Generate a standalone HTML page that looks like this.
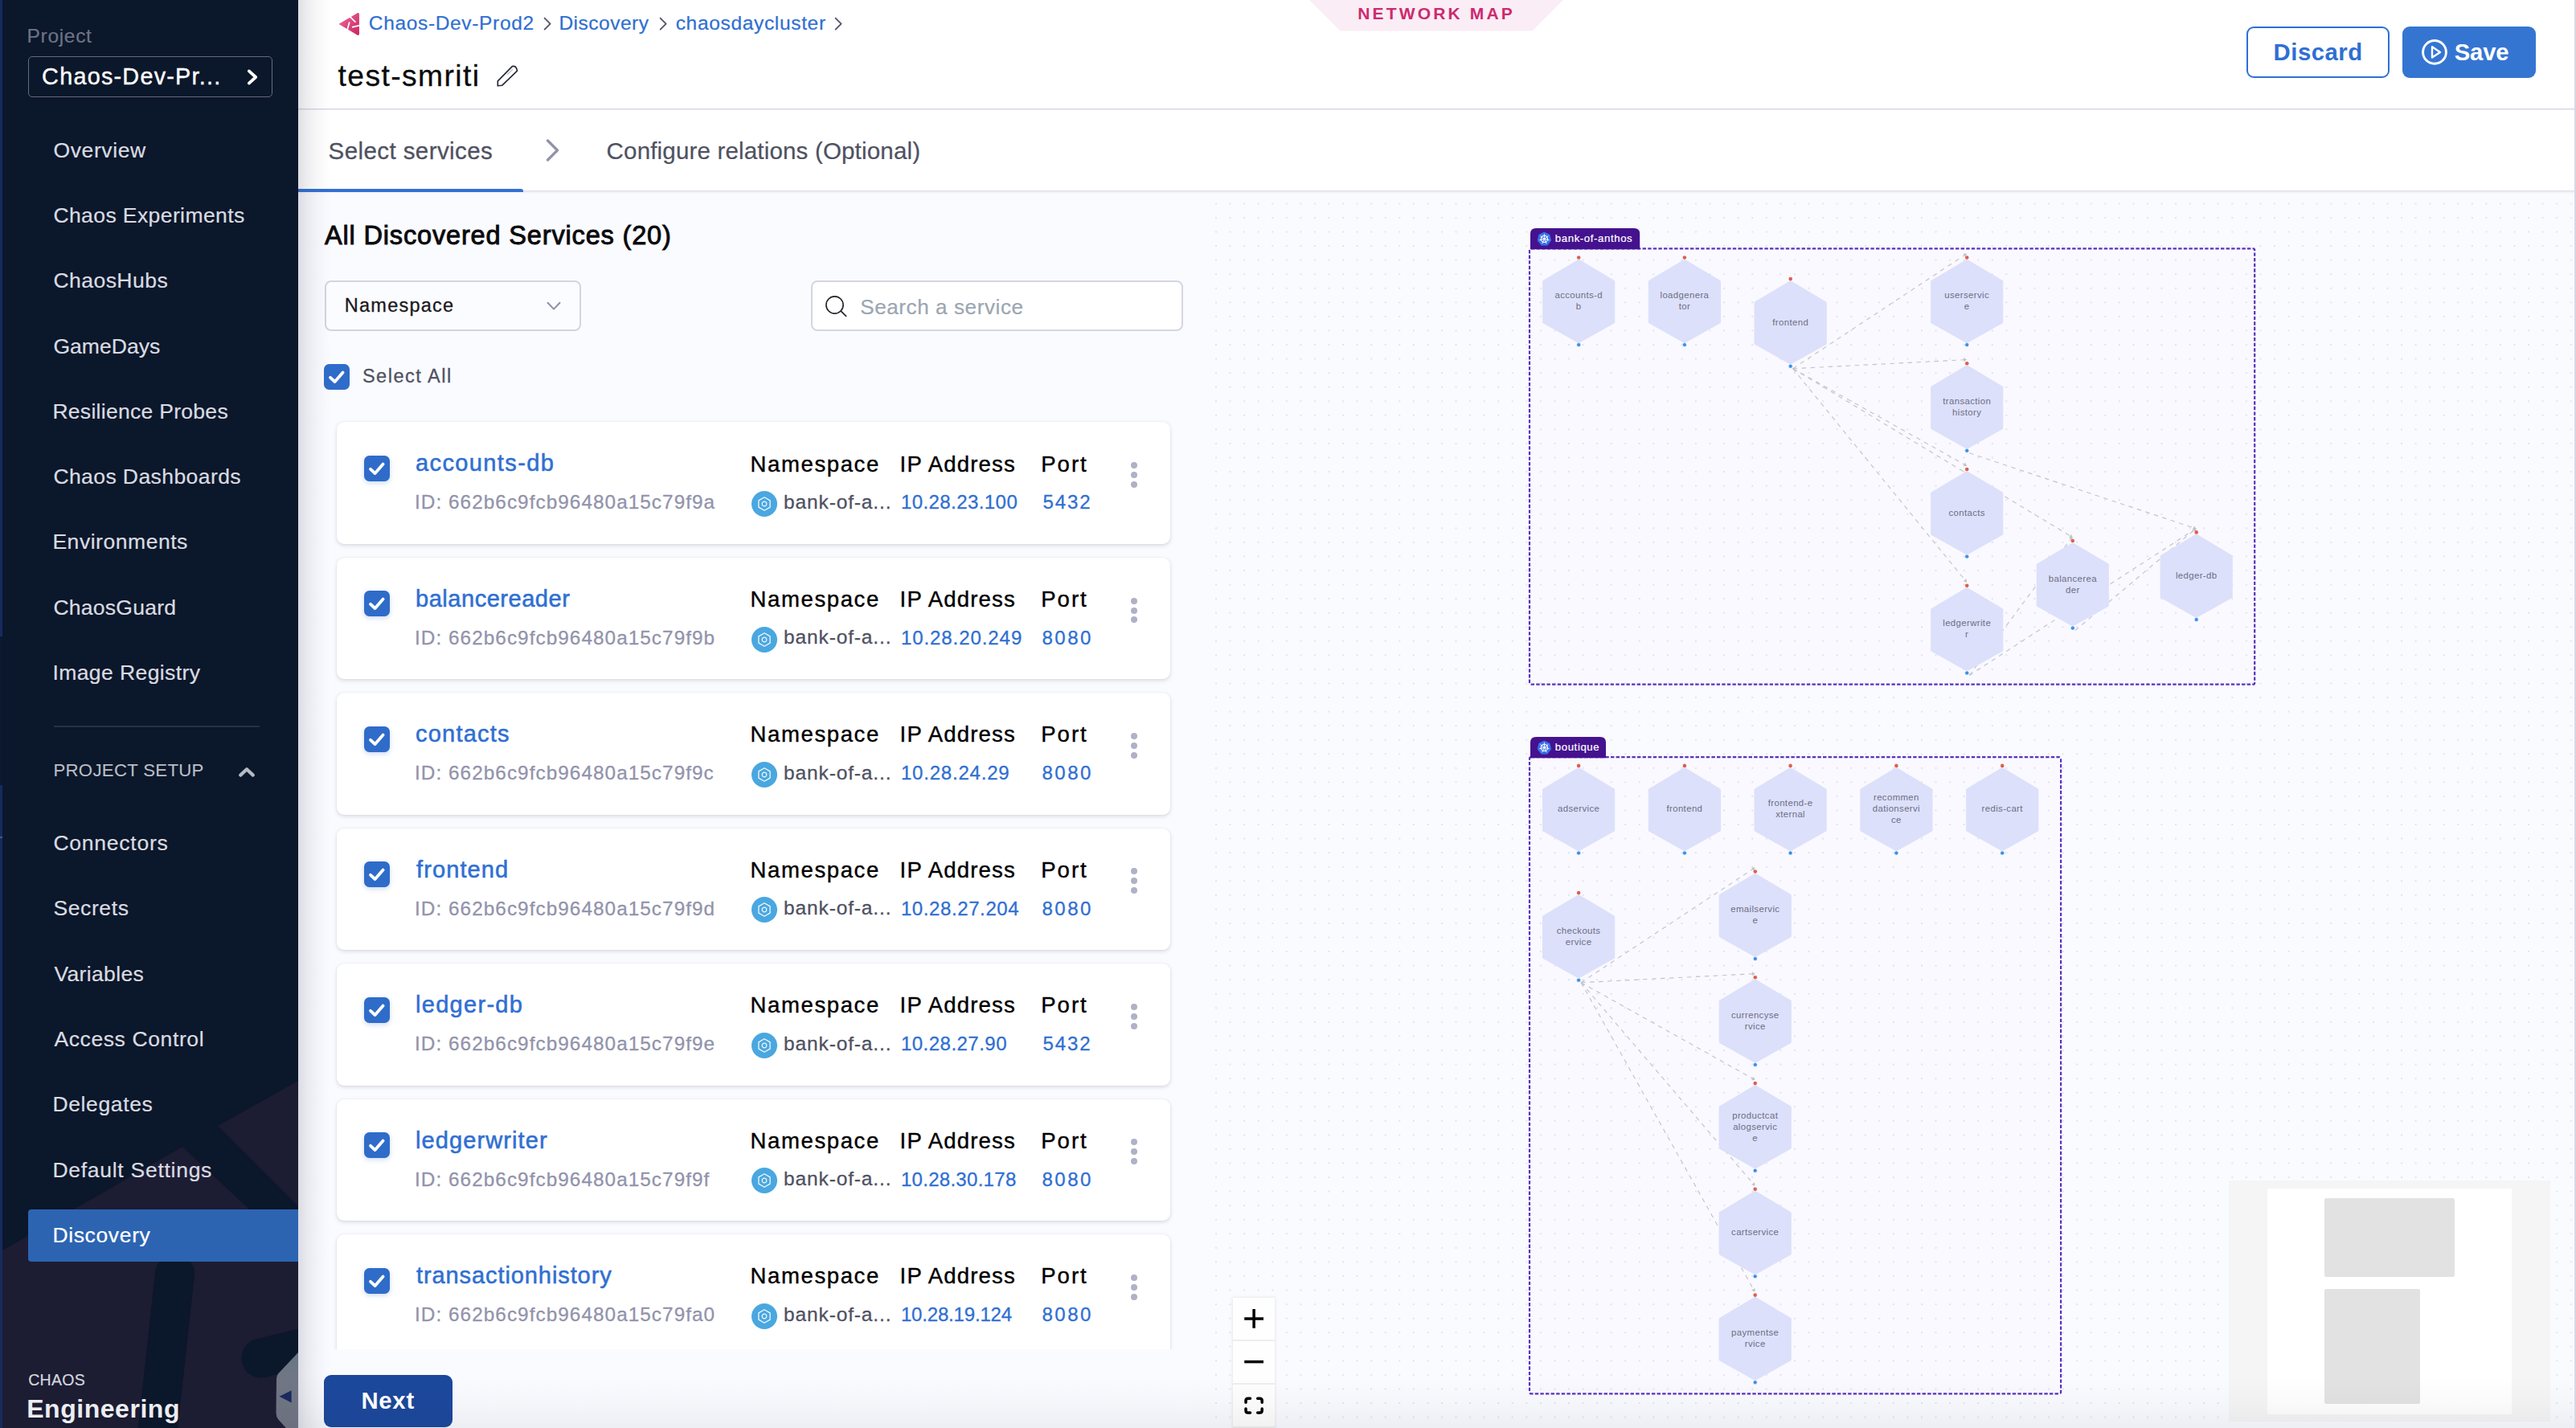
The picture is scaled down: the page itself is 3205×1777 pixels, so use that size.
<!DOCTYPE html>
<html><head><meta charset="utf-8"><title>Network Map</title><style>
html,body{margin:0;padding:0}
body{width:3205px;height:1777px;position:relative;overflow:hidden;background:#fff;font-family:"Liberation Sans",sans-serif}
.t{position:absolute;white-space:nowrap;line-height:1;font-family:"Liberation Sans",sans-serif}
svg{display:block;overflow:visible}
</style></head><body>
<div id="sb" style="position:absolute;left:0;top:0;width:371px;height:1777px;background:#0b172a;overflow:hidden">
<svg style="position:absolute;left:0;top:0" width="371" height="1777" viewBox="0 0 371 1777">
<g fill="#1c1c33">
<polygon points="371,1345 271,1401 371,1501"/>
<polygon points="3,1556 227,1427 371,1562 371,1777 3,1777"/>
</g>
<g stroke="#0b172a" stroke-width="49" stroke-linecap="round">
<line x1="217.5" y1="1585" x2="194" y2="1800"/>
<line x1="325" y1="1690" x2="400" y2="1672"/>
</g>
</svg>
<div style="position:absolute;left:0;top:0;width:3px;height:792px;background:#172b5e"></div>
<div style="position:absolute;left:0;top:792px;width:3px;height:185px;background:#0a1a31"></div>
<div style="position:absolute;left:0;top:977px;width:3px;height:800px;background:#172b5e"></div>
<div style="position:absolute;left:0;top:1041px;width:3px;height:2px;background:#4a5a86"></div>
<span class="t" style="left:33.60px;top:33.46px;font-size:24.5px;color:#6d7386;letter-spacing:0.676px;-webkit-text-stroke:0.22px #6d7386;">Project</span>
<div style="position:absolute;left:35px;top:70px;width:304px;height:51px;box-sizing:border-box;border:1.3px solid #656a80;border-radius:5px"></div>
<span class="t" style="left:52.10px;top:81.32px;font-size:28.8px;color:#ffffff;letter-spacing:1.240px;-webkit-text-stroke:0.4px #ffffff;">Chaos-Dev-Pr...</span>
<svg style="position:absolute;left:300px;top:80px" width="30" height="32"><polyline points="9.8,8.4 18.2,16 9.8,23.6" fill="none" stroke="#fff" stroke-width="3.8" stroke-linecap="round" stroke-linejoin="round"/></svg>
<span class="t" style="left:66.40px;top:173.57px;font-size:26.5px;color:#d9dbe1;letter-spacing:0.628px;-webkit-text-stroke:0.22px #d9dbe1;">Overview</span>
<span class="t" style="left:66.40px;top:254.87px;font-size:26.5px;color:#d9dbe1;letter-spacing:0.413px;-webkit-text-stroke:0.22px #d9dbe1;">Chaos Experiments</span>
<span class="t" style="left:66.40px;top:336.17px;font-size:26.5px;color:#d9dbe1;letter-spacing:0.473px;-webkit-text-stroke:0.22px #d9dbe1;">ChaosHubs</span>
<span class="t" style="left:66.40px;top:417.57px;font-size:26.5px;color:#d9dbe1;letter-spacing:0.059px;-webkit-text-stroke:0.22px #d9dbe1;">GameDays</span>
<span class="t" style="left:65.40px;top:498.97px;font-size:26.5px;color:#d9dbe1;letter-spacing:0.292px;-webkit-text-stroke:0.22px #d9dbe1;">Resilience Probes</span>
<span class="t" style="left:66.40px;top:580.17px;font-size:26.5px;color:#d9dbe1;letter-spacing:0.420px;-webkit-text-stroke:0.22px #d9dbe1;">Chaos Dashboards</span>
<span class="t" style="left:65.40px;top:661.17px;font-size:26.5px;color:#d9dbe1;letter-spacing:0.540px;-webkit-text-stroke:0.22px #d9dbe1;">Environments</span>
<span class="t" style="left:66.40px;top:742.87px;font-size:26.5px;color:#d9dbe1;letter-spacing:0.265px;-webkit-text-stroke:0.22px #d9dbe1;">ChaosGuard</span>
<span class="t" style="left:65.40px;top:824.17px;font-size:26.5px;color:#d9dbe1;letter-spacing:0.419px;-webkit-text-stroke:0.22px #d9dbe1;">Image Registry</span>
<span class="t" style="left:66.40px;top:1036.17px;font-size:26.5px;color:#d9dbe1;letter-spacing:0.759px;-webkit-text-stroke:0.22px #d9dbe1;">Connectors</span>
<span class="t" style="left:66.40px;top:1117.17px;font-size:26.5px;color:#d9dbe1;letter-spacing:0.619px;-webkit-text-stroke:0.22px #d9dbe1;">Secrets</span>
<span class="t" style="left:67.40px;top:1198.57px;font-size:26.5px;color:#d9dbe1;letter-spacing:0.367px;-webkit-text-stroke:0.22px #d9dbe1;">Variables</span>
<span class="t" style="left:67.40px;top:1280.07px;font-size:26.5px;color:#d9dbe1;letter-spacing:0.614px;-webkit-text-stroke:0.22px #d9dbe1;">Access Control</span>
<span class="t" style="left:65.40px;top:1361.17px;font-size:26.5px;color:#d9dbe1;letter-spacing:0.640px;-webkit-text-stroke:0.22px #d9dbe1;">Delegates</span>
<span class="t" style="left:65.40px;top:1442.57px;font-size:26.5px;color:#d9dbe1;letter-spacing:0.725px;-webkit-text-stroke:0.22px #d9dbe1;">Default Settings</span>
<div style="position:absolute;left:67px;top:903px;width:256px;height:2px;background:#243147"></div>
<span class="t" style="left:66.40px;top:948.31px;font-size:22.2px;color:#b9bdc6;letter-spacing:0.309px;-webkit-text-stroke:0.1px #b9bdc6;">PROJECT SETUP</span>
<svg style="position:absolute;left:290px;top:948px" width="34" height="26"><polyline points="9.2,16.6 17,9.3 24.8,16.6" fill="none" stroke="#b6bac4" stroke-width="4.2" stroke-linecap="round" stroke-linejoin="round"/></svg>
<div style="position:absolute;left:35px;top:1504.7px;width:336px;height:65.8px;background:#2c64b2;border-radius:4px 0 0 4px"></div>
<span class="t" style="left:65.40px;top:1523.97px;font-size:26.5px;color:#ffffff;letter-spacing:0.641px;-webkit-text-stroke:0.22px #ffffff;">Discovery</span>
<span class="t" style="left:35.20px;top:1708.29px;font-size:19.5px;color:#d3d6dc;letter-spacing:0.290px;-webkit-text-stroke:0.22px #d3d6dc;">CHAOS</span>
<span class="t" style="left:33.20px;top:1736.51px;font-size:32px;color:#ecedf0;font-weight:700;letter-spacing:0.534px;">Engineering</span>
<svg style="position:absolute;left:340px;top:1675px" width="31" height="102" viewBox="340 1675 31 102">
<defs><linearGradient id="hg" x1="0" y1="0" x2="0" y2="1"><stop offset="0" stop-color="#667684"/><stop offset=".3" stop-color="#717684"/><stop offset="1" stop-color="#6b6f7d"/></linearGradient></defs>
<path d="M371 1683 L346 1709.5 Q344 1712 344 1716 L343.5 1758 Q343.6 1763 346 1766 L371 1794 Z" fill="url(#hg)"/>
<path d="M347.5 1737.8 L362.6 1730.2 L362.6 1745.6 Z" fill="#1a2a60"/>
</svg>
</div>
<div style="position:absolute;left:371px;top:0;width:2834px;height:1777px;background:#fafbff"></div>
<div style="position:absolute;left:371px;top:0;width:2834px;height:135px;background:#fff"></div>
<div style="position:absolute;left:371px;top:134.7px;width:2834px;height:1.8px;background:#dadbe8"></div>
<div style="position:absolute;left:371px;top:136.6px;width:2834px;height:100.4px;background:#fff;box-shadow:0 1px 4px rgba(40,41,61,.16), 0 0 1px rgba(40,41,61,.2)"></div>
<div style="position:absolute;left:371px;top:234.6px;width:280px;height:4px;background:#3270d2;border-radius:0 3px 0 0"></div>
<svg style="position:absolute;left:418px;top:12px" width="34" height="36" viewBox="418 12 34 36">
<defs><linearGradient id="cg" x1="0" y1="0" x2="1" y2="1"><stop offset="0" stop-color="#ee6a9c"/><stop offset="1" stop-color="#c92660"/></linearGradient></defs>
<path d="M422.3 29.9 L445.0 16.6 Q446.4 15.8 446.4 17.6 L446.4 42.4 Q446.4 44.2 444.9 43.3 Z" fill="url(#cg)" stroke="url(#cg)" stroke-width="1" stroke-linejoin="round"/>
<g stroke="#fff" stroke-width="1.7" fill="none">
<path d="M434.2 19.6 L442.4 27.6"/><path d="M434.8 27.4 L432 37.5"/><path d="M438 33.8 L447.5 31.7"/>
</g></svg>
<span class="t" style="left:458.80px;top:16.96px;font-size:24.5px;color:#2f6fd2;letter-spacing:0.660px;-webkit-text-stroke:0.22px #2f6fd2;">Chaos-Dev-Prod2</span>
<span class="t" style="left:695.40px;top:16.96px;font-size:24.5px;color:#2f6fd2;letter-spacing:0.513px;-webkit-text-stroke:0.22px #2f6fd2;">Discovery</span>
<span class="t" style="left:840.70px;top:16.96px;font-size:24.5px;color:#2f6fd2;letter-spacing:0.666px;-webkit-text-stroke:0.22px #2f6fd2;">chaosdaycluster</span>
<svg style="position:absolute;left:673.8px;top:17px" width="16" height="26"><polyline points="3.6,5.6 10.6,12.6 3.6,19.6" fill="none" stroke="#55586b" stroke-width="1.9" stroke-linecap="round" stroke-linejoin="round"/></svg>
<svg style="position:absolute;left:817.7px;top:17px" width="16" height="26"><polyline points="3.6,5.6 10.6,12.6 3.6,19.6" fill="none" stroke="#55586b" stroke-width="1.9" stroke-linecap="round" stroke-linejoin="round"/></svg>
<svg style="position:absolute;left:1036px;top:17px" width="16" height="26"><polyline points="3.6,5.6 10.6,12.6 3.6,19.6" fill="none" stroke="#55586b" stroke-width="1.9" stroke-linecap="round" stroke-linejoin="round"/></svg>
<span class="t" style="left:420.50px;top:75.81px;font-size:37.2px;color:#0b0b0d;letter-spacing:1.443px;-webkit-text-stroke:0.3px #0b0b0d;">test-smriti</span>
<svg style="position:absolute;left:614px;top:78px" width="34" height="34" viewBox="614 78 34 34">
<g fill="none" stroke="#262836" stroke-width="1.65" stroke-linejoin="round" stroke-linecap="round">
<path d="M637.3 82.6 Q641.2 81.5 642.7 85.3 L643.5 88.1 L624.6 106.3 L619.3 106.8 L619.3 100.9 Z"/>
<path d="M637.5 86.6 L631.6 92.3" stroke="#b4b7c2" stroke-width="1.2"/>
</g></svg>
<svg style="position:absolute;left:1620px;top:0" width="340" height="42" viewBox="1620 0 340 42"><path d="M1629 0 L1945 0 L1906.5 38.5 L1667.5 38.5 Z" fill="#fbedf5"/></svg>
<span class="t" style="left:1689.30px;top:6.22px;font-size:21px;color:#cc2a6e;font-weight:700;letter-spacing:3.152px;">NETWORK MAP</span>
<div style="position:absolute;left:2795px;top:33px;width:178px;height:63.6px;box-sizing:border-box;border:2px solid #2f6fd2;border-radius:9px;background:#fff"></div>
<span class="t" style="left:2828.60px;top:49.80px;font-size:29.3px;color:#2f6fd2;font-weight:700;letter-spacing:0.504px;">Discard</span>
<div style="position:absolute;left:2989px;top:33px;width:166px;height:63.6px;border-radius:9px;background:#3575d2"></div>
<svg style="position:absolute;left:3011px;top:47px" width="36" height="36" viewBox="3011 47 36 36">
<circle cx="3029" cy="64.9" r="14.4" fill="none" stroke="#fff" stroke-width="2.9"/>
<path d="M3026 58.2 L3036 64.9 L3026 71.6 Z" fill="none" stroke="#fff" stroke-width="2.4" stroke-linejoin="round"/></svg>
<span class="t" style="left:3053.70px;top:49.80px;font-size:29.3px;color:#ffffff;font-weight:700;letter-spacing:-0.176px;">Save</span>
<span class="t" style="left:408.60px;top:172.83px;font-size:29.5px;color:#4f5162;letter-spacing:0.412px;-webkit-text-stroke:0.3px #4f5162;">Select services</span>
<span class="t" style="left:754.60px;top:172.83px;font-size:29.5px;color:#4f5162;letter-spacing:0.176px;-webkit-text-stroke:0.22px #4f5162;">Configure relations (Optional)</span>
<svg style="position:absolute;left:672px;top:168px" width="32" height="38"><polyline points="9.5,7 21.5,19 9.5,31" fill="none" stroke="#9293ab" stroke-width="3.4" stroke-linecap="round" stroke-linejoin="round"/></svg>
<span class="t" style="left:404.00px;top:276.79px;font-size:32.5px;color:#0b0b0d;letter-spacing:0.838px;-webkit-text-stroke:0.95px #0b0b0d;">All Discovered Services (20)</span>
<div style="position:absolute;left:403.5px;top:349.3px;width:319px;height:63.2px;box-sizing:border-box;border:2px solid #d3d4e1;border-radius:8px;background:#fbfcff"></div>
<span class="t" style="left:428.80px;top:368.81px;font-size:23.5px;color:#1a1a20;letter-spacing:1.247px;-webkit-text-stroke:0.3px #1a1a20;">Namespace</span>
<svg style="position:absolute;left:674px;top:368px" width="30" height="26"><polyline points="7.5,8.8 15,16.6 22.5,8.8" fill="none" stroke="#8e8fa8" stroke-width="2" stroke-linecap="round" stroke-linejoin="round"/></svg>
<div style="position:absolute;left:1008.7px;top:349.2px;width:463px;height:63.3px;box-sizing:border-box;border:2px solid #d4d6e2;border-radius:8px;background:#fff"></div>
<svg style="position:absolute;left:1022px;top:363px" width="36" height="36" viewBox="1022 363 36 36"><circle cx="1038.5" cy="379.5" r="10.6" fill="none" stroke="#24242c" stroke-width="1.65"/><path d="M1046.3 387.2 L1052.6 393.4" stroke="#24242c" stroke-width="1.65" stroke-linecap="round"/></svg>
<span class="t" style="left:1070.30px;top:368.79px;font-size:26px;color:#9ba6b2;letter-spacing:0.601px;-webkit-text-stroke:0.22px #9ba6b2;">Search a service</span>
<svg style="position:absolute;left:403.2px;top:453px" width="32" height="32" viewBox="0 0 32 32"><rect x="0" y="0" width="32" height="32" rx="6.5" fill="#2f6cc9"/><path d="M8 16.8 L13.6 22 L23.6 10.6" fill="none" stroke="#fff" stroke-width="3.8" stroke-linecap="round" stroke-linejoin="round"/></svg>
<span class="t" style="left:450.90px;top:456.51px;font-size:23.5px;color:#4f5162;letter-spacing:1.507px;-webkit-text-stroke:0.3px #4f5162;">Select All</span>
<div style="position:absolute;left:371px;top:500px;width:1133px;height:1178.9px;overflow:hidden">
<div style="position:absolute;left:48px;top:25.1px;width:1037.2px;height:151.6px;background:#fff;border-radius:9px;box-shadow:0 2px 5px rgba(96,97,112,.2),0 0 1.5px rgba(40,41,61,.10)"></div>
<svg filter="drop-shadow(0 2px 3px rgba(47,108,201,.25))" style="position:absolute;left:82px;top:66.8px" width="32" height="32" viewBox="0 0 32 32"><rect x="0" y="0" width="32" height="32" rx="6.5" fill="#2f6cc9"/><path d="M8 16.8 L13.6 22 L23.6 10.6" fill="none" stroke="#fff" stroke-width="3.8" stroke-linecap="round" stroke-linejoin="round"/></svg>
<span class="t" style="left:146.00px;top:62.45px;font-size:29px;color:#2f6fd2;letter-spacing:1.384px;-webkit-text-stroke:0.55px #2f6fd2;">accounts-db</span>
<span class="t" style="left:145.00px;top:113.33px;font-size:24.3px;color:#9293ab;letter-spacing:1.060px;-webkit-text-stroke:0.3px #9293ab;">ID: 662b6c9fcb96480a15c79f9a</span>
<span class="t" style="left:562.60px;top:63.52px;font-size:27.5px;color:#000;letter-spacing:1.619px;-webkit-text-stroke:0.4px #000;">Namespace</span>
<span class="t" style="left:748.60px;top:63.52px;font-size:27.5px;color:#000;letter-spacing:1.183px;-webkit-text-stroke:0.4px #000;">IP Address</span>
<span class="t" style="left:924.20px;top:63.52px;font-size:27.5px;color:#000;letter-spacing:2.035px;-webkit-text-stroke:0.4px #000;">Port</span>
<svg style="position:absolute;left:564px;top:111.0px" width="32" height="32" viewBox="-16 -16 32 32"><circle r="16" fill="#4aa7e0"/><path d="M0 -8.2 L7.1 -4.1 L7.1 4.1 L0 8.2 L-7.1 4.1 L-7.1 -4.1 Z" fill="none" stroke="#f0f8fd" stroke-width="1.3" stroke-linejoin="round"/><circle r="2.8" fill="none" stroke="#f0f8fd" stroke-width="1.2"/></svg>
<span class="t" style="left:604.10px;top:112.96px;font-size:24.5px;color:#4f5162;letter-spacing:0.862px;-webkit-text-stroke:0.3px #4f5162;">bank-of-a...</span>
<span class="t" style="left:749.90px;top:113.38px;font-size:24px;color:#2f6fd2;letter-spacing:0.429px;-webkit-text-stroke:0.3px #2f6fd2;">10.28.23.100</span>
<span class="t" style="left:926.50px;top:113.38px;font-size:24px;color:#2f6fd2;letter-spacing:1.919px;-webkit-text-stroke:0.3px #2f6fd2;">5432</span>
<div style="position:absolute;left:1035.9px;top:75.0px;width:8px;height:8px;border-radius:50%;background:#b0b1c5"></div>
<div style="position:absolute;left:1035.9px;top:87.0px;width:8px;height:8px;border-radius:50%;background:#b0b1c5"></div>
<div style="position:absolute;left:1035.9px;top:98.9px;width:8px;height:8px;border-radius:50%;background:#b0b1c5"></div>
<div style="position:absolute;left:48px;top:193.6px;width:1037.2px;height:151.6px;background:#fff;border-radius:9px;box-shadow:0 2px 5px rgba(96,97,112,.2),0 0 1.5px rgba(40,41,61,.10)"></div>
<svg filter="drop-shadow(0 2px 3px rgba(47,108,201,.25))" style="position:absolute;left:82px;top:235.3px" width="32" height="32" viewBox="0 0 32 32"><rect x="0" y="0" width="32" height="32" rx="6.5" fill="#2f6cc9"/><path d="M8 16.8 L13.6 22 L23.6 10.6" fill="none" stroke="#fff" stroke-width="3.8" stroke-linecap="round" stroke-linejoin="round"/></svg>
<span class="t" style="left:146.00px;top:230.93px;font-size:29px;color:#2f6fd2;letter-spacing:0.537px;-webkit-text-stroke:0.55px #2f6fd2;">balancereader</span>
<span class="t" style="left:145.00px;top:281.81px;font-size:24.3px;color:#9293ab;letter-spacing:1.060px;-webkit-text-stroke:0.3px #9293ab;">ID: 662b6c9fcb96480a15c79f9b</span>
<span class="t" style="left:562.60px;top:232.00px;font-size:27.5px;color:#000;letter-spacing:1.619px;-webkit-text-stroke:0.4px #000;">Namespace</span>
<span class="t" style="left:748.60px;top:232.00px;font-size:27.5px;color:#000;letter-spacing:1.183px;-webkit-text-stroke:0.4px #000;">IP Address</span>
<span class="t" style="left:924.20px;top:232.00px;font-size:27.5px;color:#000;letter-spacing:2.035px;-webkit-text-stroke:0.4px #000;">Port</span>
<svg style="position:absolute;left:564px;top:279.5px" width="32" height="32" viewBox="-16 -16 32 32"><circle r="16" fill="#4aa7e0"/><path d="M0 -8.2 L7.1 -4.1 L7.1 4.1 L0 8.2 L-7.1 4.1 L-7.1 -4.1 Z" fill="none" stroke="#f0f8fd" stroke-width="1.3" stroke-linejoin="round"/><circle r="2.8" fill="none" stroke="#f0f8fd" stroke-width="1.2"/></svg>
<span class="t" style="left:604.10px;top:281.44px;font-size:24.5px;color:#4f5162;letter-spacing:0.862px;-webkit-text-stroke:0.3px #4f5162;">bank-of-a...</span>
<span class="t" style="left:749.90px;top:281.86px;font-size:24px;color:#2f6fd2;letter-spacing:0.929px;-webkit-text-stroke:0.3px #2f6fd2;">10.28.20.249</span>
<span class="t" style="left:925.50px;top:281.86px;font-size:24px;color:#2f6fd2;letter-spacing:2.486px;-webkit-text-stroke:0.3px #2f6fd2;">8080</span>
<div style="position:absolute;left:1035.9px;top:243.5px;width:8px;height:8px;border-radius:50%;background:#b0b1c5"></div>
<div style="position:absolute;left:1035.9px;top:255.5px;width:8px;height:8px;border-radius:50%;background:#b0b1c5"></div>
<div style="position:absolute;left:1035.9px;top:267.4px;width:8px;height:8px;border-radius:50%;background:#b0b1c5"></div>
<div style="position:absolute;left:48px;top:362.1px;width:1037.2px;height:151.6px;background:#fff;border-radius:9px;box-shadow:0 2px 5px rgba(96,97,112,.2),0 0 1.5px rgba(40,41,61,.10)"></div>
<svg filter="drop-shadow(0 2px 3px rgba(47,108,201,.25))" style="position:absolute;left:82px;top:403.8px" width="32" height="32" viewBox="0 0 32 32"><rect x="0" y="0" width="32" height="32" rx="6.5" fill="#2f6cc9"/><path d="M8 16.8 L13.6 22 L23.6 10.6" fill="none" stroke="#fff" stroke-width="3.8" stroke-linecap="round" stroke-linejoin="round"/></svg>
<span class="t" style="left:146.00px;top:399.41px;font-size:29px;color:#2f6fd2;letter-spacing:1.214px;-webkit-text-stroke:0.55px #2f6fd2;">contacts</span>
<span class="t" style="left:145.00px;top:450.29px;font-size:24.3px;color:#9293ab;letter-spacing:1.060px;-webkit-text-stroke:0.3px #9293ab;">ID: 662b6c9fcb96480a15c79f9c</span>
<span class="t" style="left:562.60px;top:400.48px;font-size:27.5px;color:#000;letter-spacing:1.619px;-webkit-text-stroke:0.4px #000;">Namespace</span>
<span class="t" style="left:748.60px;top:400.48px;font-size:27.5px;color:#000;letter-spacing:1.183px;-webkit-text-stroke:0.4px #000;">IP Address</span>
<span class="t" style="left:924.20px;top:400.48px;font-size:27.5px;color:#000;letter-spacing:2.035px;-webkit-text-stroke:0.4px #000;">Port</span>
<svg style="position:absolute;left:564px;top:448.0px" width="32" height="32" viewBox="-16 -16 32 32"><circle r="16" fill="#4aa7e0"/><path d="M0 -8.2 L7.1 -4.1 L7.1 4.1 L0 8.2 L-7.1 4.1 L-7.1 -4.1 Z" fill="none" stroke="#f0f8fd" stroke-width="1.3" stroke-linejoin="round"/><circle r="2.8" fill="none" stroke="#f0f8fd" stroke-width="1.2"/></svg>
<span class="t" style="left:604.10px;top:449.92px;font-size:24.5px;color:#4f5162;letter-spacing:0.862px;-webkit-text-stroke:0.3px #4f5162;">bank-of-a...</span>
<span class="t" style="left:749.90px;top:450.34px;font-size:24px;color:#2f6fd2;letter-spacing:0.796px;-webkit-text-stroke:0.3px #2f6fd2;">10.28.24.29</span>
<span class="t" style="left:925.50px;top:450.34px;font-size:24px;color:#2f6fd2;letter-spacing:2.486px;-webkit-text-stroke:0.3px #2f6fd2;">8080</span>
<div style="position:absolute;left:1035.9px;top:412.0px;width:8px;height:8px;border-radius:50%;background:#b0b1c5"></div>
<div style="position:absolute;left:1035.9px;top:424.0px;width:8px;height:8px;border-radius:50%;background:#b0b1c5"></div>
<div style="position:absolute;left:1035.9px;top:435.9px;width:8px;height:8px;border-radius:50%;background:#b0b1c5"></div>
<div style="position:absolute;left:48px;top:530.5px;width:1037.2px;height:151.6px;background:#fff;border-radius:9px;box-shadow:0 2px 5px rgba(96,97,112,.2),0 0 1.5px rgba(40,41,61,.10)"></div>
<svg filter="drop-shadow(0 2px 3px rgba(47,108,201,.25))" style="position:absolute;left:82px;top:572.2px" width="32" height="32" viewBox="0 0 32 32"><rect x="0" y="0" width="32" height="32" rx="6.5" fill="#2f6cc9"/><path d="M8 16.8 L13.6 22 L23.6 10.6" fill="none" stroke="#fff" stroke-width="3.8" stroke-linecap="round" stroke-linejoin="round"/></svg>
<span class="t" style="left:147.00px;top:567.89px;font-size:29px;color:#2f6fd2;letter-spacing:1.116px;-webkit-text-stroke:0.55px #2f6fd2;">frontend</span>
<span class="t" style="left:145.00px;top:618.77px;font-size:24.3px;color:#9293ab;letter-spacing:1.060px;-webkit-text-stroke:0.3px #9293ab;">ID: 662b6c9fcb96480a15c79f9d</span>
<span class="t" style="left:562.60px;top:568.96px;font-size:27.5px;color:#000;letter-spacing:1.619px;-webkit-text-stroke:0.4px #000;">Namespace</span>
<span class="t" style="left:748.60px;top:568.96px;font-size:27.5px;color:#000;letter-spacing:1.183px;-webkit-text-stroke:0.4px #000;">IP Address</span>
<span class="t" style="left:924.20px;top:568.96px;font-size:27.5px;color:#000;letter-spacing:2.035px;-webkit-text-stroke:0.4px #000;">Port</span>
<svg style="position:absolute;left:564px;top:616.4px" width="32" height="32" viewBox="-16 -16 32 32"><circle r="16" fill="#4aa7e0"/><path d="M0 -8.2 L7.1 -4.1 L7.1 4.1 L0 8.2 L-7.1 4.1 L-7.1 -4.1 Z" fill="none" stroke="#f0f8fd" stroke-width="1.3" stroke-linejoin="round"/><circle r="2.8" fill="none" stroke="#f0f8fd" stroke-width="1.2"/></svg>
<span class="t" style="left:604.10px;top:618.40px;font-size:24.5px;color:#4f5162;letter-spacing:0.862px;-webkit-text-stroke:0.3px #4f5162;">bank-of-a...</span>
<span class="t" style="left:749.90px;top:618.82px;font-size:24px;color:#2f6fd2;letter-spacing:0.601px;-webkit-text-stroke:0.3px #2f6fd2;">10.28.27.204</span>
<span class="t" style="left:925.50px;top:618.82px;font-size:24px;color:#2f6fd2;letter-spacing:2.486px;-webkit-text-stroke:0.3px #2f6fd2;">8080</span>
<div style="position:absolute;left:1035.9px;top:580.4px;width:8px;height:8px;border-radius:50%;background:#b0b1c5"></div>
<div style="position:absolute;left:1035.9px;top:592.4px;width:8px;height:8px;border-radius:50%;background:#b0b1c5"></div>
<div style="position:absolute;left:1035.9px;top:604.3px;width:8px;height:8px;border-radius:50%;background:#b0b1c5"></div>
<div style="position:absolute;left:48px;top:699.0px;width:1037.2px;height:151.6px;background:#fff;border-radius:9px;box-shadow:0 2px 5px rgba(96,97,112,.2),0 0 1.5px rgba(40,41,61,.10)"></div>
<svg filter="drop-shadow(0 2px 3px rgba(47,108,201,.25))" style="position:absolute;left:82px;top:740.7px" width="32" height="32" viewBox="0 0 32 32"><rect x="0" y="0" width="32" height="32" rx="6.5" fill="#2f6cc9"/><path d="M8 16.8 L13.6 22 L23.6 10.6" fill="none" stroke="#fff" stroke-width="3.8" stroke-linecap="round" stroke-linejoin="round"/></svg>
<span class="t" style="left:146.00px;top:736.37px;font-size:29px;color:#2f6fd2;letter-spacing:1.300px;-webkit-text-stroke:0.55px #2f6fd2;">ledger-db</span>
<span class="t" style="left:145.00px;top:787.25px;font-size:24.3px;color:#9293ab;letter-spacing:1.060px;-webkit-text-stroke:0.3px #9293ab;">ID: 662b6c9fcb96480a15c79f9e</span>
<span class="t" style="left:562.60px;top:737.44px;font-size:27.5px;color:#000;letter-spacing:1.619px;-webkit-text-stroke:0.4px #000;">Namespace</span>
<span class="t" style="left:748.60px;top:737.44px;font-size:27.5px;color:#000;letter-spacing:1.183px;-webkit-text-stroke:0.4px #000;">IP Address</span>
<span class="t" style="left:924.20px;top:737.44px;font-size:27.5px;color:#000;letter-spacing:2.035px;-webkit-text-stroke:0.4px #000;">Port</span>
<svg style="position:absolute;left:564px;top:784.9px" width="32" height="32" viewBox="-16 -16 32 32"><circle r="16" fill="#4aa7e0"/><path d="M0 -8.2 L7.1 -4.1 L7.1 4.1 L0 8.2 L-7.1 4.1 L-7.1 -4.1 Z" fill="none" stroke="#f0f8fd" stroke-width="1.3" stroke-linejoin="round"/><circle r="2.8" fill="none" stroke="#f0f8fd" stroke-width="1.2"/></svg>
<span class="t" style="left:604.10px;top:786.88px;font-size:24.5px;color:#4f5162;letter-spacing:0.862px;-webkit-text-stroke:0.3px #4f5162;">bank-of-a...</span>
<span class="t" style="left:749.90px;top:787.30px;font-size:24px;color:#2f6fd2;letter-spacing:0.486px;-webkit-text-stroke:0.3px #2f6fd2;">10.28.27.90</span>
<span class="t" style="left:926.50px;top:787.30px;font-size:24px;color:#2f6fd2;letter-spacing:1.919px;-webkit-text-stroke:0.3px #2f6fd2;">5432</span>
<div style="position:absolute;left:1035.9px;top:748.9px;width:8px;height:8px;border-radius:50%;background:#b0b1c5"></div>
<div style="position:absolute;left:1035.9px;top:760.9px;width:8px;height:8px;border-radius:50%;background:#b0b1c5"></div>
<div style="position:absolute;left:1035.9px;top:772.8px;width:8px;height:8px;border-radius:50%;background:#b0b1c5"></div>
<div style="position:absolute;left:48px;top:867.5px;width:1037.2px;height:151.6px;background:#fff;border-radius:9px;box-shadow:0 2px 5px rgba(96,97,112,.2),0 0 1.5px rgba(40,41,61,.10)"></div>
<svg filter="drop-shadow(0 2px 3px rgba(47,108,201,.25))" style="position:absolute;left:82px;top:909.2px" width="32" height="32" viewBox="0 0 32 32"><rect x="0" y="0" width="32" height="32" rx="6.5" fill="#2f6cc9"/><path d="M8 16.8 L13.6 22 L23.6 10.6" fill="none" stroke="#fff" stroke-width="3.8" stroke-linecap="round" stroke-linejoin="round"/></svg>
<span class="t" style="left:146.00px;top:904.85px;font-size:29px;color:#2f6fd2;letter-spacing:1.105px;-webkit-text-stroke:0.55px #2f6fd2;">ledgerwriter</span>
<span class="t" style="left:145.00px;top:955.73px;font-size:24.3px;color:#9293ab;letter-spacing:1.060px;-webkit-text-stroke:0.3px #9293ab;">ID: 662b6c9fcb96480a15c79f9f</span>
<span class="t" style="left:562.60px;top:905.92px;font-size:27.5px;color:#000;letter-spacing:1.619px;-webkit-text-stroke:0.4px #000;">Namespace</span>
<span class="t" style="left:748.60px;top:905.92px;font-size:27.5px;color:#000;letter-spacing:1.183px;-webkit-text-stroke:0.4px #000;">IP Address</span>
<span class="t" style="left:924.20px;top:905.92px;font-size:27.5px;color:#000;letter-spacing:2.035px;-webkit-text-stroke:0.4px #000;">Port</span>
<svg style="position:absolute;left:564px;top:953.4px" width="32" height="32" viewBox="-16 -16 32 32"><circle r="16" fill="#4aa7e0"/><path d="M0 -8.2 L7.1 -4.1 L7.1 4.1 L0 8.2 L-7.1 4.1 L-7.1 -4.1 Z" fill="none" stroke="#f0f8fd" stroke-width="1.3" stroke-linejoin="round"/><circle r="2.8" fill="none" stroke="#f0f8fd" stroke-width="1.2"/></svg>
<span class="t" style="left:604.10px;top:955.36px;font-size:24.5px;color:#4f5162;letter-spacing:0.862px;-webkit-text-stroke:0.3px #4f5162;">bank-of-a...</span>
<span class="t" style="left:749.90px;top:955.78px;font-size:24px;color:#2f6fd2;letter-spacing:0.292px;-webkit-text-stroke:0.3px #2f6fd2;">10.28.30.178</span>
<span class="t" style="left:925.50px;top:955.78px;font-size:24px;color:#2f6fd2;letter-spacing:2.486px;-webkit-text-stroke:0.3px #2f6fd2;">8080</span>
<div style="position:absolute;left:1035.9px;top:917.4px;width:8px;height:8px;border-radius:50%;background:#b0b1c5"></div>
<div style="position:absolute;left:1035.9px;top:929.4px;width:8px;height:8px;border-radius:50%;background:#b0b1c5"></div>
<div style="position:absolute;left:1035.9px;top:941.3px;width:8px;height:8px;border-radius:50%;background:#b0b1c5"></div>
<div style="position:absolute;left:48px;top:1036.0px;width:1037.2px;height:151.6px;background:#fff;border-radius:9px;box-shadow:0 2px 5px rgba(96,97,112,.2),0 0 1.5px rgba(40,41,61,.10)"></div>
<svg filter="drop-shadow(0 2px 3px rgba(47,108,201,.25))" style="position:absolute;left:82px;top:1077.7px" width="32" height="32" viewBox="0 0 32 32"><rect x="0" y="0" width="32" height="32" rx="6.5" fill="#2f6cc9"/><path d="M8 16.8 L13.6 22 L23.6 10.6" fill="none" stroke="#fff" stroke-width="3.8" stroke-linecap="round" stroke-linejoin="round"/></svg>
<span class="t" style="left:147.00px;top:1073.33px;font-size:29px;color:#2f6fd2;letter-spacing:0.908px;-webkit-text-stroke:0.55px #2f6fd2;">transactionhistory</span>
<span class="t" style="left:145.00px;top:1124.21px;font-size:24.3px;color:#9293ab;letter-spacing:1.060px;-webkit-text-stroke:0.3px #9293ab;">ID: 662b6c9fcb96480a15c79fa0</span>
<span class="t" style="left:562.60px;top:1074.40px;font-size:27.5px;color:#000;letter-spacing:1.619px;-webkit-text-stroke:0.4px #000;">Namespace</span>
<span class="t" style="left:748.60px;top:1074.40px;font-size:27.5px;color:#000;letter-spacing:1.183px;-webkit-text-stroke:0.4px #000;">IP Address</span>
<span class="t" style="left:924.20px;top:1074.40px;font-size:27.5px;color:#000;letter-spacing:2.035px;-webkit-text-stroke:0.4px #000;">Port</span>
<svg style="position:absolute;left:564px;top:1121.9px" width="32" height="32" viewBox="-16 -16 32 32"><circle r="16" fill="#4aa7e0"/><path d="M0 -8.2 L7.1 -4.1 L7.1 4.1 L0 8.2 L-7.1 4.1 L-7.1 -4.1 Z" fill="none" stroke="#f0f8fd" stroke-width="1.3" stroke-linejoin="round"/><circle r="2.8" fill="none" stroke="#f0f8fd" stroke-width="1.2"/></svg>
<span class="t" style="left:604.10px;top:1123.84px;font-size:24.5px;color:#4f5162;letter-spacing:0.862px;-webkit-text-stroke:0.3px #4f5162;">bank-of-a...</span>
<span class="t" style="left:749.90px;top:1124.26px;font-size:24px;color:#2f6fd2;letter-spacing:-0.171px;-webkit-text-stroke:0.3px #2f6fd2;">10.28.19.124</span>
<span class="t" style="left:925.50px;top:1124.26px;font-size:24px;color:#2f6fd2;letter-spacing:2.486px;-webkit-text-stroke:0.3px #2f6fd2;">8080</span>
<div style="position:absolute;left:1035.9px;top:1085.9px;width:8px;height:8px;border-radius:50%;background:#b0b1c5"></div>
<div style="position:absolute;left:1035.9px;top:1097.9px;width:8px;height:8px;border-radius:50%;background:#b0b1c5"></div>
<div style="position:absolute;left:1035.9px;top:1109.8px;width:8px;height:8px;border-radius:50%;background:#b0b1c5"></div>
</div>
<div style="position:absolute;left:403px;top:1711px;width:160px;height:64.5px;border-radius:9px;background:#1c489c"></div>
<span class="t" style="left:449.40px;top:1728.40px;font-size:29.3px;color:#fff;font-weight:700;letter-spacing:0.752px;">Next</span>
<svg style="position:absolute;left:1504px;top:238px" width="1699" height="1539" viewBox="1504 238 1699 1539">
<defs><pattern id="dots" x="1504.22" y="244.62" width="17.56" height="17.56" patternUnits="userSpaceOnUse"><circle cx="8.78" cy="8.78" r="0.66" fill="#babac3"/></pattern>
<marker id="arr" viewBox="-10 -10 20 20" markerWidth="9" markerHeight="9" refX="0" refY="0" orient="auto" markerUnits="userSpaceOnUse"><polyline points="-6.5,-4.6 0,0 -6.5,4.6 -6.5,-4.6" fill="#c0c0c5" stroke="#c0c0c5" stroke-width="1" stroke-linejoin="round"/></marker></defs>
<rect x="1504" y="238" width="1699" height="1539" fill="url(#dots)"/>
<rect x="1903" y="309.3" width="902.1999999999998" height="542.4000000000001" rx="2" fill="rgba(128,80,255,.012)" stroke="#5a31bd" stroke-width="2.2" stroke-dasharray="4.4 2.2"/>
<path d="M1904 310.3 L1904 291 Q1904 284 1911 284 L2033.2 284 Q2040.2 284 2040.2 291 L2040.2 310.3 Z" fill="#45128f"/>
<polygon points="1921.40,289.20 1927.81,292.29 1929.39,299.22 1924.96,304.79 1917.84,304.79 1913.41,299.22 1914.99,292.29" fill="#3a72ea" stroke="#3a72ea" stroke-width="1.2" stroke-linejoin="round"/>
<circle cx="1921.4" cy="297.4" r="4.1" fill="none" stroke="#fff" stroke-width="1.1"/>
<line x1="1921.40" y1="296.20" x2="1921.40" y2="291.20" stroke="#fff" stroke-width="1"/>
<line x1="1922.34" y1="296.65" x2="1926.25" y2="293.53" stroke="#fff" stroke-width="1"/>
<line x1="1922.57" y1="297.67" x2="1927.44" y2="298.78" stroke="#fff" stroke-width="1"/>
<line x1="1921.92" y1="298.48" x2="1924.09" y2="302.99" stroke="#fff" stroke-width="1"/>
<line x1="1920.88" y1="298.48" x2="1918.71" y2="302.99" stroke="#fff" stroke-width="1"/>
<line x1="1920.23" y1="297.67" x2="1915.36" y2="298.78" stroke="#fff" stroke-width="1"/>
<line x1="1920.46" y1="296.65" x2="1916.55" y2="293.53" stroke="#fff" stroke-width="1"/>
<circle cx="1921.4" cy="297.4" r="1.3" fill="#fff"/>
<rect x="1903" y="942.2" width="661.0999999999999" height="792.0999999999999" rx="2" fill="rgba(128,80,255,.012)" stroke="#5a31bd" stroke-width="2.2" stroke-dasharray="4.4 2.2"/>
<path d="M1904 943.2 L1904 924 Q1904 917 1911 917 L1991 917 Q1998 917 1998 924 L1998 943.2 Z" fill="#45128f"/>
<polygon points="1921.40,922.20 1927.81,925.29 1929.39,932.22 1924.96,937.79 1917.84,937.79 1913.41,932.22 1914.99,925.29" fill="#3a72ea" stroke="#3a72ea" stroke-width="1.2" stroke-linejoin="round"/>
<circle cx="1921.4" cy="930.4" r="4.1" fill="none" stroke="#fff" stroke-width="1.1"/>
<line x1="1921.40" y1="929.20" x2="1921.40" y2="924.20" stroke="#fff" stroke-width="1"/>
<line x1="1922.34" y1="929.65" x2="1926.25" y2="926.53" stroke="#fff" stroke-width="1"/>
<line x1="1922.57" y1="930.67" x2="1927.44" y2="931.78" stroke="#fff" stroke-width="1"/>
<line x1="1921.92" y1="931.48" x2="1924.09" y2="935.99" stroke="#fff" stroke-width="1"/>
<line x1="1920.88" y1="931.48" x2="1918.71" y2="935.99" stroke="#fff" stroke-width="1"/>
<line x1="1920.23" y1="930.67" x2="1915.36" y2="931.78" stroke="#fff" stroke-width="1"/>
<line x1="1920.46" y1="929.65" x2="1916.55" y2="926.53" stroke="#fff" stroke-width="1"/>
<circle cx="1921.4" cy="930.4" r="1.3" fill="#fff"/>
<path d="M2230.7 458.7 L2446.6 315.9" fill="none" stroke="#c3c3c7" stroke-width="1.15" stroke-dasharray="5.5 5.5" marker-end="url(#arr)"/>
<path d="M2230.7 458.7 L2446.6 447.6" fill="none" stroke="#c3c3c7" stroke-width="1.15" stroke-dasharray="5.5 5.5" marker-end="url(#arr)"/>
<path d="M2230.7 458.7 L2446.6 579.4" fill="none" stroke="#c3c3c7" stroke-width="1.15" stroke-dasharray="5.5 5.5" marker-end="url(#arr)"/>
<path d="M2230.7 458.7 L2578.2 668.4" fill="none" stroke="#c3c3c7" stroke-width="1.15" stroke-dasharray="5.5 5.5" marker-end="url(#arr)"/>
<path d="M2230.7 458.7 L2446.6 724.2" fill="none" stroke="#c3c3c7" stroke-width="1.15" stroke-dasharray="5.5 5.5" marker-end="url(#arr)"/>
<path d="M2450.2 563.8 L2732.1 657.8" fill="none" stroke="#c3c3c7" stroke-width="1.15" stroke-dasharray="5.5 5.5" marker-end="url(#arr)"/>
<path d="M2450.2 840.4 L2732.1 657.8" fill="none" stroke="#c3c3c7" stroke-width="1.15" stroke-dasharray="5.5 5.5" marker-end="url(#arr)"/>
<path d="M2450.2 840.4 L2578.2 668.4" fill="none" stroke="#c3c3c7" stroke-width="1.15" stroke-dasharray="5.5 5.5" marker-end="url(#arr)"/>
<path d="M2581.8 784.6 L2732.1 657.8" fill="none" stroke="#c3c3c7" stroke-width="1.15" stroke-dasharray="5.5 5.5" marker-end="url(#arr)"/>
<path d="M1967.1 1222.7 L2183.2 1079.9" fill="none" stroke="#c3c3c7" stroke-width="1.15" stroke-dasharray="5.5 5.5" marker-end="url(#arr)"/>
<path d="M1967.1 1222.7 L2183.2 1211.7" fill="none" stroke="#c3c3c7" stroke-width="1.15" stroke-dasharray="5.5 5.5" marker-end="url(#arr)"/>
<path d="M1967.1 1222.7 L2183.1 1343.5" fill="none" stroke="#c3c3c7" stroke-width="1.15" stroke-dasharray="5.5 5.5" marker-end="url(#arr)"/>
<path d="M1967.1 1222.7 L2183.1 1475.1" fill="none" stroke="#c3c3c7" stroke-width="1.15" stroke-dasharray="5.5 5.5" marker-end="url(#arr)"/>
<path d="M1967.1 1222.7 L2183.1 1607.0" fill="none" stroke="#c3c3c7" stroke-width="1.15" stroke-dasharray="5.5 5.5" marker-end="url(#arr)"/>
<polygon points="1964.2,324.1 2007.9,350.2 2007.9,401.0 1964.2,425.5 1920.5,401.0 1920.5,350.2" fill="#dde0fa" stroke="#dde0fa" stroke-width="2.8" stroke-linejoin="round"/>
<circle cx="1964.2" cy="320.5" r="2.3" fill="#df5f4e"/>
<circle cx="1964.2" cy="429.1" r="2.5" fill="#3a8fe8" stroke="#fff" stroke-width=".6"/>
<polygon points="2095.9,324.1 2139.6,350.2 2139.6,401.0 2095.9,425.5 2052.2000000000003,401.0 2052.2000000000003,350.2" fill="#dde0fa" stroke="#dde0fa" stroke-width="2.8" stroke-linejoin="round"/>
<circle cx="2095.9" cy="320.5" r="2.3" fill="#df5f4e"/>
<circle cx="2095.9" cy="429.1" r="2.5" fill="#3a8fe8" stroke="#fff" stroke-width=".6"/>
<polygon points="2227.7,350.7 2271.3999999999996,376.79999999999995 2271.3999999999996,427.59999999999997 2227.7,452.09999999999997 2184.0,427.59999999999997 2184.0,376.79999999999995" fill="#dde0fa" stroke="#dde0fa" stroke-width="2.8" stroke-linejoin="round"/>
<circle cx="2227.7" cy="347.09999999999997" r="2.3" fill="#df5f4e"/>
<circle cx="2227.7" cy="455.7" r="2.5" fill="#3a8fe8" stroke="#fff" stroke-width=".6"/>
<polygon points="2447.2,324.1 2490.8999999999996,350.2 2490.8999999999996,401.0 2447.2,425.5 2403.5,401.0 2403.5,350.2" fill="#dde0fa" stroke="#dde0fa" stroke-width="2.8" stroke-linejoin="round"/>
<circle cx="2447.2" cy="320.5" r="2.3" fill="#df5f4e"/>
<circle cx="2447.2" cy="429.1" r="2.5" fill="#3a8fe8" stroke="#fff" stroke-width=".6"/>
<polygon points="2447.2,455.8 2490.8999999999996,481.9 2490.8999999999996,532.7 2447.2,557.2 2403.5,532.7 2403.5,481.9" fill="#dde0fa" stroke="#dde0fa" stroke-width="2.8" stroke-linejoin="round"/>
<circle cx="2447.2" cy="452.2" r="2.3" fill="#df5f4e"/>
<circle cx="2447.2" cy="560.8" r="2.5" fill="#3a8fe8" stroke="#fff" stroke-width=".6"/>
<polygon points="2447.2,587.5999999999999 2490.8999999999996,613.6999999999999 2490.8999999999996,664.5 2447.2,689.0 2403.5,664.5 2403.5,613.6999999999999" fill="#dde0fa" stroke="#dde0fa" stroke-width="2.8" stroke-linejoin="round"/>
<circle cx="2447.2" cy="584.0" r="2.3" fill="#df5f4e"/>
<circle cx="2447.2" cy="692.5999999999999" r="2.5" fill="#3a8fe8" stroke="#fff" stroke-width=".6"/>
<polygon points="2447.2,732.4 2490.8999999999996,758.5 2490.8999999999996,809.3000000000001 2447.2,833.8000000000001 2403.5,809.3000000000001 2403.5,758.5" fill="#dde0fa" stroke="#dde0fa" stroke-width="2.8" stroke-linejoin="round"/>
<circle cx="2447.2" cy="728.8000000000001" r="2.3" fill="#df5f4e"/>
<circle cx="2447.2" cy="837.4" r="2.5" fill="#3a8fe8" stroke="#fff" stroke-width=".6"/>
<polygon points="2578.8,676.5999999999999 2622.5,702.6999999999999 2622.5,753.5 2578.8,778.0 2535.1000000000004,753.5 2535.1000000000004,702.6999999999999" fill="#dde0fa" stroke="#dde0fa" stroke-width="2.8" stroke-linejoin="round"/>
<circle cx="2578.8" cy="673.0" r="2.3" fill="#df5f4e"/>
<circle cx="2578.8" cy="781.5999999999999" r="2.5" fill="#3a8fe8" stroke="#fff" stroke-width=".6"/>
<polygon points="2732.7,666.0 2776.3999999999996,692.1 2776.3999999999996,742.9000000000001 2732.7,767.4000000000001 2689.0,742.9000000000001 2689.0,692.1" fill="#dde0fa" stroke="#dde0fa" stroke-width="2.8" stroke-linejoin="round"/>
<circle cx="2732.7" cy="662.4000000000001" r="2.3" fill="#df5f4e"/>
<circle cx="2732.7" cy="771.0" r="2.5" fill="#3a8fe8" stroke="#fff" stroke-width=".6"/>
<polygon points="1964.1,956.5 2007.8,982.6 2007.8,1033.4 1964.1,1057.9 1920.3999999999999,1033.4 1920.3999999999999,982.6" fill="#dde0fa" stroke="#dde0fa" stroke-width="2.8" stroke-linejoin="round"/>
<circle cx="1964.1" cy="952.9000000000001" r="2.3" fill="#df5f4e"/>
<circle cx="1964.1" cy="1061.5" r="2.5" fill="#3a8fe8" stroke="#fff" stroke-width=".6"/>
<polygon points="2095.9,956.5 2139.6,982.6 2139.6,1033.4 2095.9,1057.9 2052.2000000000003,1033.4 2052.2000000000003,982.6" fill="#dde0fa" stroke="#dde0fa" stroke-width="2.8" stroke-linejoin="round"/>
<circle cx="2095.9" cy="952.9000000000001" r="2.3" fill="#df5f4e"/>
<circle cx="2095.9" cy="1061.5" r="2.5" fill="#3a8fe8" stroke="#fff" stroke-width=".6"/>
<polygon points="2227.6,956.5 2271.2999999999997,982.6 2271.2999999999997,1033.4 2227.6,1057.9 2183.9,1033.4 2183.9,982.6" fill="#dde0fa" stroke="#dde0fa" stroke-width="2.8" stroke-linejoin="round"/>
<circle cx="2227.6" cy="952.9000000000001" r="2.3" fill="#df5f4e"/>
<circle cx="2227.6" cy="1061.5" r="2.5" fill="#3a8fe8" stroke="#fff" stroke-width=".6"/>
<polygon points="2359.4,956.5 2403.1,982.6 2403.1,1033.4 2359.4,1057.9 2315.7000000000003,1033.4 2315.7000000000003,982.6" fill="#dde0fa" stroke="#dde0fa" stroke-width="2.8" stroke-linejoin="round"/>
<circle cx="2359.4" cy="952.9000000000001" r="2.3" fill="#df5f4e"/>
<circle cx="2359.4" cy="1061.5" r="2.5" fill="#3a8fe8" stroke="#fff" stroke-width=".6"/>
<polygon points="2491.2,956.5 2534.8999999999996,982.6 2534.8999999999996,1033.4 2491.2,1057.9 2447.5,1033.4 2447.5,982.6" fill="#dde0fa" stroke="#dde0fa" stroke-width="2.8" stroke-linejoin="round"/>
<circle cx="2491.2" cy="952.9000000000001" r="2.3" fill="#df5f4e"/>
<circle cx="2491.2" cy="1061.5" r="2.5" fill="#3a8fe8" stroke="#fff" stroke-width=".6"/>
<polygon points="1964.1,1114.7 2007.8,1140.8000000000002 2007.8,1191.6000000000001 1964.1,1216.1000000000001 1920.3999999999999,1191.6000000000001 1920.3999999999999,1140.8000000000002" fill="#dde0fa" stroke="#dde0fa" stroke-width="2.8" stroke-linejoin="round"/>
<circle cx="1964.1" cy="1111.1000000000001" r="2.3" fill="#df5f4e"/>
<circle cx="1964.1" cy="1219.7" r="2.5" fill="#3a8fe8" stroke="#fff" stroke-width=".6"/>
<polygon points="2183.8,1088.1 2227.5,1114.2 2227.5,1165.0 2183.8,1189.5 2140.1000000000004,1165.0 2140.1000000000004,1114.2" fill="#dde0fa" stroke="#dde0fa" stroke-width="2.8" stroke-linejoin="round"/>
<circle cx="2183.8" cy="1084.5" r="2.3" fill="#df5f4e"/>
<circle cx="2183.8" cy="1193.1" r="2.5" fill="#3a8fe8" stroke="#fff" stroke-width=".6"/>
<polygon points="2183.8,1219.8999999999999 2227.5,1246.0 2227.5,1296.8 2183.8,1321.3 2140.1000000000004,1296.8 2140.1000000000004,1246.0" fill="#dde0fa" stroke="#dde0fa" stroke-width="2.8" stroke-linejoin="round"/>
<circle cx="2183.8" cy="1216.3" r="2.3" fill="#df5f4e"/>
<circle cx="2183.8" cy="1324.8999999999999" r="2.5" fill="#3a8fe8" stroke="#fff" stroke-width=".6"/>
<polygon points="2183.7,1351.7 2227.3999999999996,1377.8000000000002 2227.3999999999996,1428.6000000000001 2183.7,1453.1000000000001 2140.0,1428.6000000000001 2140.0,1377.8000000000002" fill="#dde0fa" stroke="#dde0fa" stroke-width="2.8" stroke-linejoin="round"/>
<circle cx="2183.7" cy="1348.1000000000001" r="2.3" fill="#df5f4e"/>
<circle cx="2183.7" cy="1456.7" r="2.5" fill="#3a8fe8" stroke="#fff" stroke-width=".6"/>
<polygon points="2183.7,1483.3 2227.3999999999996,1509.4 2227.3999999999996,1560.2 2183.7,1584.7 2140.0,1560.2 2140.0,1509.4" fill="#dde0fa" stroke="#dde0fa" stroke-width="2.8" stroke-linejoin="round"/>
<circle cx="2183.7" cy="1479.7" r="2.3" fill="#df5f4e"/>
<circle cx="2183.7" cy="1588.3" r="2.5" fill="#3a8fe8" stroke="#fff" stroke-width=".6"/>
<polygon points="2183.7,1615.2 2227.3999999999996,1641.3000000000002 2227.3999999999996,1692.1000000000001 2183.7,1716.6000000000001 2140.0,1692.1000000000001 2140.0,1641.3000000000002" fill="#dde0fa" stroke="#dde0fa" stroke-width="2.8" stroke-linejoin="round"/>
<circle cx="2183.7" cy="1611.6000000000001" r="2.3" fill="#df5f4e"/>
<circle cx="2183.7" cy="1720.2" r="2.5" fill="#3a8fe8" stroke="#fff" stroke-width=".6"/>
</svg>
<span class="t" style="left:1904.2px;width:120px;text-align:center;top:362.05px;font-size:11.4px;color:#6b6d85;letter-spacing:.38px">accounts-d</span>
<span class="t" style="left:1904.2px;width:120px;text-align:center;top:376.05px;font-size:11.4px;color:#6b6d85;letter-spacing:.38px">b</span>
<span class="t" style="left:2035.9px;width:120px;text-align:center;top:362.05px;font-size:11.4px;color:#6b6d85;letter-spacing:.38px">loadgenera</span>
<span class="t" style="left:2035.9px;width:120px;text-align:center;top:376.05px;font-size:11.4px;color:#6b6d85;letter-spacing:.38px">tor</span>
<span class="t" style="left:2167.7px;width:120px;text-align:center;top:395.65px;font-size:11.4px;color:#6b6d85;letter-spacing:.38px">frontend</span>
<span class="t" style="left:2387.2px;width:120px;text-align:center;top:362.05px;font-size:11.4px;color:#6b6d85;letter-spacing:.38px">userservic</span>
<span class="t" style="left:2387.2px;width:120px;text-align:center;top:376.05px;font-size:11.4px;color:#6b6d85;letter-spacing:.38px">e</span>
<span class="t" style="left:2387.2px;width:120px;text-align:center;top:493.75px;font-size:11.4px;color:#6b6d85;letter-spacing:.38px">transaction</span>
<span class="t" style="left:2387.2px;width:120px;text-align:center;top:507.75px;font-size:11.4px;color:#6b6d85;letter-spacing:.38px">history</span>
<span class="t" style="left:2387.2px;width:120px;text-align:center;top:632.55px;font-size:11.4px;color:#6b6d85;letter-spacing:.38px">contacts</span>
<span class="t" style="left:2387.2px;width:120px;text-align:center;top:770.35px;font-size:11.4px;color:#6b6d85;letter-spacing:.38px">ledgerwrite</span>
<span class="t" style="left:2387.2px;width:120px;text-align:center;top:784.35px;font-size:11.4px;color:#6b6d85;letter-spacing:.38px">r</span>
<span class="t" style="left:2518.8px;width:120px;text-align:center;top:714.55px;font-size:11.4px;color:#6b6d85;letter-spacing:.38px">balancerea</span>
<span class="t" style="left:2518.8px;width:120px;text-align:center;top:728.55px;font-size:11.4px;color:#6b6d85;letter-spacing:.38px">der</span>
<span class="t" style="left:2672.7px;width:120px;text-align:center;top:710.95px;font-size:11.4px;color:#6b6d85;letter-spacing:.38px">ledger-db</span>
<span class="t" style="left:1904.1px;width:120px;text-align:center;top:1001.45px;font-size:11.4px;color:#6b6d85;letter-spacing:.38px">adservice</span>
<span class="t" style="left:2035.9px;width:120px;text-align:center;top:1001.45px;font-size:11.4px;color:#6b6d85;letter-spacing:.38px">frontend</span>
<span class="t" style="left:2167.6px;width:120px;text-align:center;top:994.45px;font-size:11.4px;color:#6b6d85;letter-spacing:.38px">frontend-e</span>
<span class="t" style="left:2167.6px;width:120px;text-align:center;top:1008.45px;font-size:11.4px;color:#6b6d85;letter-spacing:.38px">xternal</span>
<span class="t" style="left:2299.4px;width:120px;text-align:center;top:987.45px;font-size:11.4px;color:#6b6d85;letter-spacing:.38px">recommen</span>
<span class="t" style="left:2299.4px;width:120px;text-align:center;top:1001.45px;font-size:11.4px;color:#6b6d85;letter-spacing:.38px">dationservi</span>
<span class="t" style="left:2299.4px;width:120px;text-align:center;top:1015.45px;font-size:11.4px;color:#6b6d85;letter-spacing:.38px">ce</span>
<span class="t" style="left:2431.2px;width:120px;text-align:center;top:1001.45px;font-size:11.4px;color:#6b6d85;letter-spacing:.38px">redis-cart</span>
<span class="t" style="left:1904.1px;width:120px;text-align:center;top:1152.65px;font-size:11.4px;color:#6b6d85;letter-spacing:.38px">checkouts</span>
<span class="t" style="left:1904.1px;width:120px;text-align:center;top:1166.65px;font-size:11.4px;color:#6b6d85;letter-spacing:.38px">ervice</span>
<span class="t" style="left:2123.8px;width:120px;text-align:center;top:1126.05px;font-size:11.4px;color:#6b6d85;letter-spacing:.38px">emailservic</span>
<span class="t" style="left:2123.8px;width:120px;text-align:center;top:1140.05px;font-size:11.4px;color:#6b6d85;letter-spacing:.38px">e</span>
<span class="t" style="left:2123.8px;width:120px;text-align:center;top:1257.85px;font-size:11.4px;color:#6b6d85;letter-spacing:.38px">currencyse</span>
<span class="t" style="left:2123.8px;width:120px;text-align:center;top:1271.85px;font-size:11.4px;color:#6b6d85;letter-spacing:.38px">rvice</span>
<span class="t" style="left:2123.7px;width:120px;text-align:center;top:1382.65px;font-size:11.4px;color:#6b6d85;letter-spacing:.38px">productcat</span>
<span class="t" style="left:2123.7px;width:120px;text-align:center;top:1396.65px;font-size:11.4px;color:#6b6d85;letter-spacing:.38px">alogservic</span>
<span class="t" style="left:2123.7px;width:120px;text-align:center;top:1410.65px;font-size:11.4px;color:#6b6d85;letter-spacing:.38px">e</span>
<span class="t" style="left:2123.7px;width:120px;text-align:center;top:1528.25px;font-size:11.4px;color:#6b6d85;letter-spacing:.38px">cartservice</span>
<span class="t" style="left:2123.7px;width:120px;text-align:center;top:1653.15px;font-size:11.4px;color:#6b6d85;letter-spacing:.38px">paymentse</span>
<span class="t" style="left:2123.7px;width:120px;text-align:center;top:1667.15px;font-size:11.4px;color:#6b6d85;letter-spacing:.38px">rvice</span>
<span class="t" style="left:1934.80px;top:289.83px;font-size:13.2px;color:#ffffff;letter-spacing:0.609px;-webkit-text-stroke:0.2px #ffffff;">bank-of-anthos</span>
<span class="t" style="left:1934.80px;top:922.83px;font-size:13.2px;color:#ffffff;letter-spacing:0.605px;-webkit-text-stroke:0.2px #ffffff;">boutique</span>
<div style="position:absolute;left:1534px;top:1615px;width:52px;height:162px;box-shadow:0 0 3px 1px rgba(0,0,0,.08)"></div>
<div style="position:absolute;left:1534px;top:1615px;width:52px;height:52.2px;background:#fefefe;border-bottom:2px solid #eeeeee"></div>
<div style="position:absolute;left:1534px;top:1669px;width:52px;height:52.2px;background:#fefefe;border-bottom:2px solid #eeeeee"></div>
<div style="position:absolute;left:1534px;top:1723px;width:52px;height:52.2px;background:#fefefe;border-bottom:2px solid #eeeeee"></div>
<svg style="position:absolute;left:1534px;top:1615px" width="52" height="162" viewBox="1534 1615 52 162"><g stroke="#000" stroke-width="3.5" fill="none">
<path d="M1548.2 1640.9 L1572 1640.9 M1560.1 1629 L1560.1 1652.8"/>
<path d="M1548.2 1694.6 L1572 1694.6"/>
<g stroke-linecap="round"><path d="M1550 1745.3 L1550 1743 Q1550 1740.2 1552.8 1740.2 L1555.5 1740.2"/><path d="M1564.7 1740.2 L1567.4 1740.2 Q1570.2 1740.2 1570.2 1743 L1570.2 1745.3"/>
<path d="M1570.2 1752.9 L1570.2 1755.2 Q1570.2 1758 1567.4 1758 L1564.7 1758"/><path d="M1555.5 1758 L1552.8 1758 Q1550 1758 1550 1755.2 L1550 1752.9"/></g></g></svg>
<div style="position:absolute;left:2773px;top:1469.2px;width:400px;height:300px;background:#f5f5f5"></div>
<div style="position:absolute;left:2821px;top:1478.7px;width:304px;height:281px;background:#fff"></div>
<div style="position:absolute;left:2892px;top:1491px;width:162px;height:97.8px;background:#e2e2e2;border-radius:2.5px"></div>
<div style="position:absolute;left:2892px;top:1603.9px;width:119px;height:143px;background:#e2e2e2;border-radius:2.5px"></div>
<div style="position:absolute;left:371px;top:1712px;width:2832px;height:65px;background:linear-gradient(180deg,rgba(20,20,40,0),rgba(20,20,40,.018) 50%,rgba(20,20,40,.055));pointer-events:none"></div>
<div style="position:absolute;left:371px;top:0;width:40px;height:1777px;background:linear-gradient(90deg,rgba(40,41,70,.15),rgba(40,41,70,.085) 25%,rgba(40,41,70,.035) 60%,rgba(40,41,70,0));pointer-events:none"></div>
<div style="position:absolute;left:3203px;top:0;width:2px;height:1777px;background:#d7d8e4"></div>
</body></html>
